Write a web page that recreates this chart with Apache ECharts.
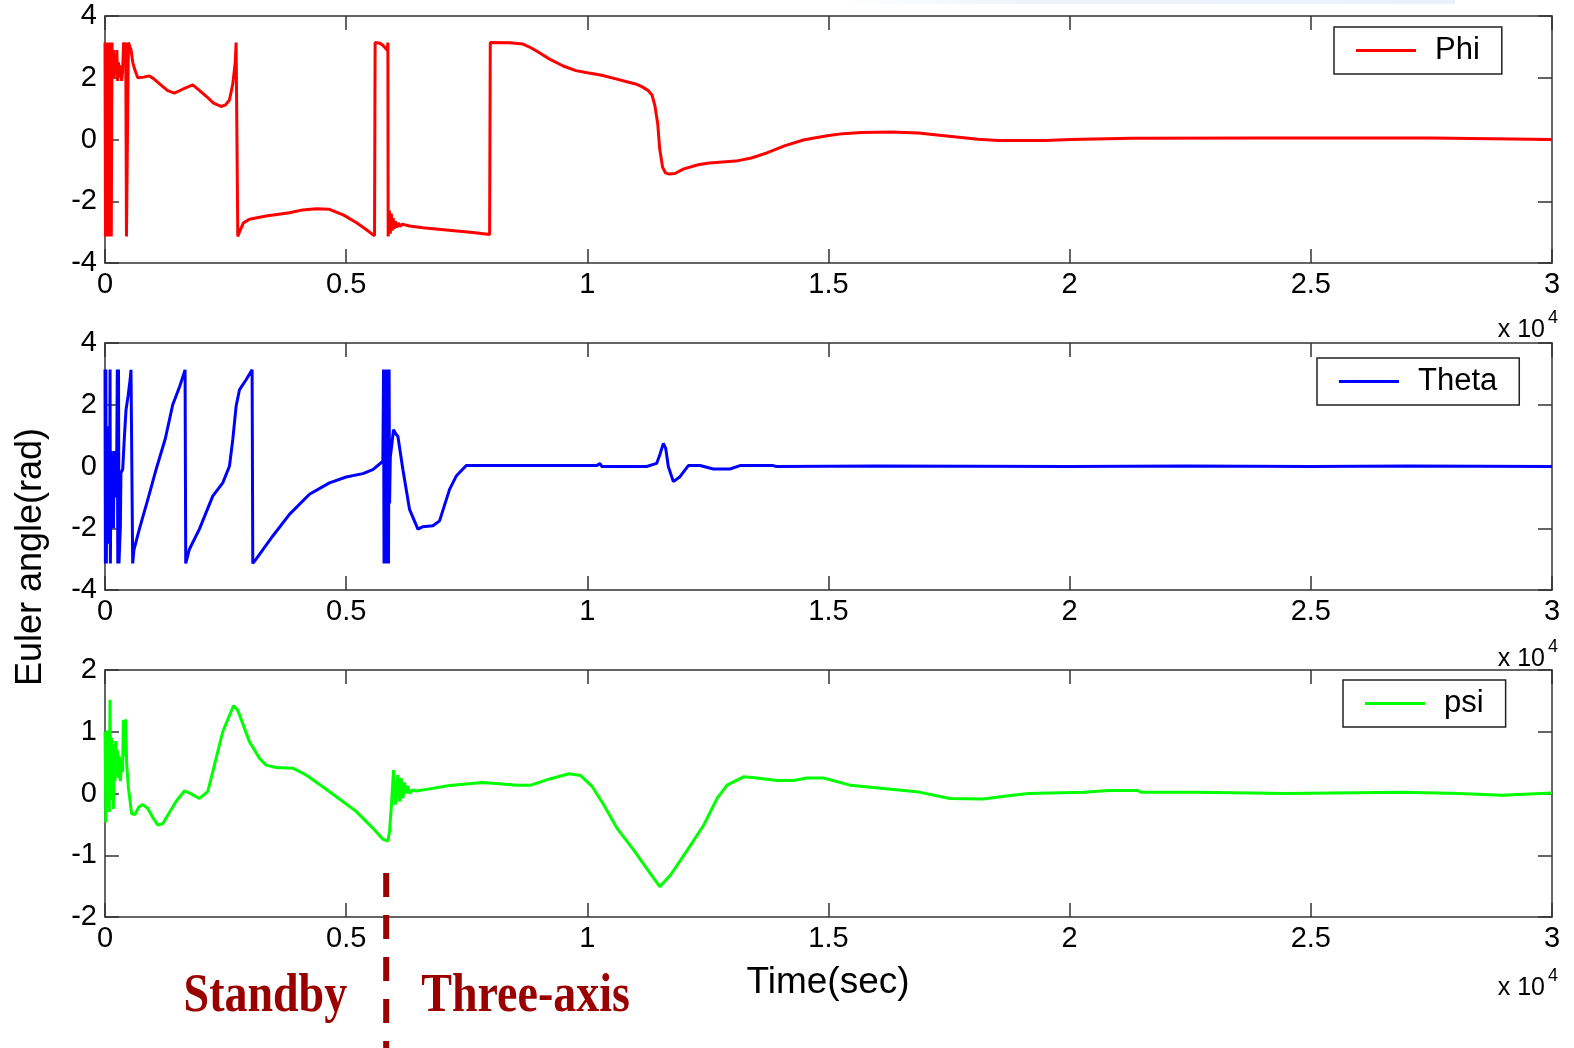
<!DOCTYPE html>
<html>
<head>
<meta charset="utf-8">
<script src="https://cdn.jsdelivr.net/npm/echarts@6/dist/echarts.min.js"></script>
<style>
  html, body { margin: 0; padding: 0; background: #fff; }
  #main { width: 1574px; height: 1048px; }
</style>
</head>
<body>
<div id="main"></div>
<script>
// time in seconds, angle in rad
var phiData = [
  [0, 3.14], [10, -3.14], [22, 3.14], [32, -3.14], [45, 3.14], [56, -3.14], [68, 3.14], [80, -3.14],
  [92, 3.14], [104, -3.14], [118, 3.14], [130, -3.14], [145, 3.14], [160, 2.1], [175, 2.9], [190, 2.0],
  [210, 2.7], [225, 2.1], [245, 2.9], [262, 1.9], [280, 2.5], [300, 2.0], [320, 2.4], [345, 1.9],
  [365, 2.2], [385, 3.14], [410, 3.0], [430, 3.14], [445, -3.14], [470, -3.14], [485, 3.14], [510, 3.1],
  [540, 2.9], [575, 2.5], [620, 2.25], [680, 2.0], [712, 1.98], [800, 2.02], [920, 2.06], [1000, 1.98],
  [1150, 1.78], [1300, 1.58], [1438, 1.5], [1600, 1.62], [1819, 1.77], [1950, 1.6], [2100, 1.4],
  [2250, 1.18], [2407, 1.07], [2500, 1.12], [2580, 1.28], [2650, 1.8], [2700, 2.5], [2718, 3.14],
  [2740, 3.14], [2753, -3.14], [2800, -2.95], [2870, -2.7], [2995, -2.58], [3340, -2.48], [3824, -2.37],
  [4100, -2.28], [4378, -2.24], [4654, -2.26], [4950, -2.45], [5207, -2.69], [5400, -2.9], [5588, -3.12],
  [5600, 3.14], [5700, 3.12], [5761, 3.05], [5851, 2.89], [5865, 3.14], [5871, -3.14], [5895, -2.3],
  [5915, -3.05], [5935, -2.4], [5955, -2.95], [5975, -2.55], [5995, -2.9], [6020, -2.65], [6050, -2.85],
  [6080, -2.7], [6120, -2.82], [6160, -2.74], [6314, -2.8], [6591, -2.86], [7075, -2.93], [7628, -3.01],
  [7974, -3.08], [7988, 3.14], [8389, 3.13], [8665, 3.09], [8820, 2.98], [8974, 2.84], [9200, 2.62],
  [9500, 2.38], [9763, 2.23], [10000, 2.16], [10300, 2.08], [10552, 1.98], [10800, 1.88], [11000, 1.8],
  [11120, 1.72], [11250, 1.6], [11342, 1.44], [11400, 1.1], [11460, 0.5], [11500, -0.3], [11560, -0.9],
  [11620, -1.08], [11700, -1.12], [11815, -1.1], [12000, -0.95], [12300, -0.82], [12525, -0.76],
  [13078, -0.7], [13400, -0.6], [13709, -0.44], [14100, -0.2], [14498, -0.01], [14972, 0.12],
  [15300, 0.19], [15682, 0.23], [16300, 0.24], [16866, 0.21], [17300, 0.14], [17655, 0.08],
  [18100, 0.01], [18523, -0.03], [19500, -0.03], [20024, 0.0], [21286, 0.04], [24000, 0.05],
  [27500, 0.05], [27530, 0.0], [30000, 0.0]
];

var thetaData = [
  [0, 3.14], [8, -3.14], [18, 3.14], [28, -3.14], [40, 1.3], [50, -1.5], [60, 0.8], [70, -2.5],
  [80, 1.0], [95, -1.3], [105, 3.14], [112, -3.14], [125, 0.5], [140, -1.0], [160, -0.2], [175, -2.0],
  [190, 0.5], [210, -1.0], [240, -0.5], [255, 3.14], [265, -3.14], [280, 3.14], [290, -3.14],
  [305, -2.5], [318, -2.0], [330, -0.2], [367, -0.1], [400, 0.9], [436, 1.84], [480, 2.3],
  [520, 2.8], [539, 3.13], [560, 3.14], [574, -3.14], [600, -2.7], [712, -2.03], [900, -1.0],
  [1058, -0.1], [1250, 0.9], [1404, 2.0], [1550, 2.6], [1660, 3.13], [1674, -3.14], [1750, -2.68],
  [1957, -2.03], [2234, -0.96], [2441, -0.53], [2580, 0.01], [2649, 0.87], [2718, 1.95], [2787, 2.48],
  [2925, 2.81], [3050, 3.13], [3064, -3.14], [3133, -3.0], [3479, -2.25], [3824, -1.55], [4239, -0.9],
  [4654, -0.53], [5000, -0.34], [5346, -0.23], [5553, -0.1], [5761, 0.17], [5775, 3.14], [5785, -3.14],
  [5795, 3.14], [5805, -3.14], [5815, 3.14], [5828, -3.14], [5840, 3.14], [5852, -3.14], [5865, 3.14],
  [5878, -3.14], [5890, 3.14], [5900, -1.2], [5915, 0.3], [5934, 0.33], [5982, 1.19], [6030, 1.05],
  [6072, 0.98], [6176, -0.1], [6314, -1.39], [6487, -2.03], [6591, -1.95], [6798, -1.92], [6936, -1.76],
  [7144, -0.74], [7282, -0.31], [7490, 0.03], [8112, 0.03], [8650, 0.03], [8665, 0.08], [8700, 0.03],
  [10200, 0.03], [10263, 0.1], [10300, 0.0], [11230, 0.0], [11437, 0.1], [11507, 0.4], [11576, 0.75],
  [11625, 0.59], [11679, 0.0], [11783, -0.49], [11921, -0.33], [12094, 0.03], [12336, 0.03],
  [12612, -0.08], [12958, -0.08], [13165, 0.03], [13850, 0.03], [13920, 0.0], [16000, 0.02],
  [20000, 0.0], [22400, 0.02], [25000, 0.0], [27000, 0.02], [30000, 0.0]
];

var psiData = [
  [0, 1.0], [18, -0.47], [35, 1.02], [50, 0.1], [70, 0.9], [88, -0.3], [104, 1.52], [120, 0.0],
  [138, 0.9], [150, -0.1], [165, 0.8], [173, -0.25], [190, 0.7], [207, 0.2], [222, 0.85], [242, 0.3],
  [260, 0.7], [276, 0.25], [300, 0.6], [320, 0.2], [346, 0.55], [365, 0.35], [380, 1.19], [405, 0.6],
  [429, 1.2], [449, 0.49], [484, 0.1], [553, -0.33], [622, -0.34], [700, -0.22], [781, -0.18],
  [885, -0.24], [1000, -0.4], [1093, -0.51], [1196, -0.49], [1473, -0.13], [1646, 0.04], [1750, 0.01],
  [1957, -0.08], [2130, 0.03], [2234, 0.35], [2441, 1.0], [2663, 1.42], [2752, 1.35], [2994, 0.84],
  [3202, 0.57], [3340, 0.46], [3548, 0.42], [3893, 0.41], [4170, 0.3], [4516, 0.11], [4931, -0.13],
  [5207, -0.29], [5553, -0.56], [5761, -0.74], [5865, -0.77], [5899, -0.61], [5934, -0.24], [5982, 0.38],
  [6024, -0.18], [6072, 0.3], [6107, -0.13], [6141, 0.25], [6176, -0.08], [6210, 0.18], [6245, 0.0],
  [6280, 0.12], [6314, 0.0], [6380, 0.06], [6452, 0.04], [6729, 0.075], [7144, 0.13], [7835, 0.18],
  [8552, 0.135], [8828, 0.135], [9241, 0.24], [9621, 0.32], [9862, 0.29], [10103, 0.11], [10345, -0.19],
  [10621, -0.57], [10966, -0.92], [11310, -1.3], [11503, -1.51], [11724, -1.32], [12069, -0.92],
  [12414, -0.51], [12690, -0.08], [12897, 0.135], [13241, 0.27], [13517, 0.25], [13931, 0.21],
  [14276, 0.21], [14552, 0.25], [14897, 0.25], [15448, 0.135], [16138, 0.08], [16828, 0.03],
  [17517, -0.08], [18207, -0.09], [18815, -0.03], [19148, 0], [20296, 0.02], [20815, 0.05], [21407, 0.05],
  [21481, 0.02], [22630, 0.02], [22667, 0], [24481, 0], [24519, 0.02], [26889, 0.02], [26926, 0],
  [28074, 0], [28111, -0.03], [28963, -0.03], [29000, 0], [30000, 0.01]
];

var seriesNames = ['Phi', 'Theta', 'psi'];
var seriesColors = ['#ff0000', '#0000ff', '#00ff00'];
var yRanges = [[-4, 4, 2], [-4, 4, 2], [-2, 2, 1]];
var switchTime = 5830; // standby -> three-axis

var FONT = '"Liberation Sans", Arial, sans-serif';
var gridTops = [16, 343, 670];
var gridHeight = 247;

var chart = echarts.init(document.getElementById('main'));

var grids = [], xAxes = [], yAxes = [], legends = [], series = [];
var axisLine = { show: true, onZero: false, lineStyle: { color: '#333', width: 1.5 } };
var tick = { show: true, inside: true, length: 14, lineStyle: { color: '#333', width: 1.5 } };

for (var i = 0; i < 3; i++) {
  grids.push({ left: 105, top: gridTops[i], width: 1447, height: gridHeight });
  xAxes.push({
    type: 'value', gridIndex: i, position: 'bottom', min: 0, max: 30000, interval: 5000,
    axisLine: axisLine, axisTick: tick, splitLine: { show: false },
    axisLabel: {
      fontSize: 29, fontFamily: FONT, color: '#000', margin: 7,
      formatter: function (v) { return String(v / 10000); }
    }
  });
  yAxes.push({
    type: 'value', gridIndex: i, position: 'left',
    min: yRanges[i][0], max: yRanges[i][1], interval: yRanges[i][2],
    axisLine: axisLine, axisTick: tick, splitLine: { show: false },
    axisLabel: { fontSize: 29, fontFamily: FONT, color: '#000', margin: 8 }
  });
}
// mirrored top / right axes for the box frame
for (var j = 0; j < 3; j++) {
  xAxes.push({
    type: 'value', gridIndex: j, position: 'top', min: 0, max: 30000, interval: 5000,
    axisLine: axisLine, axisTick: tick, splitLine: { show: false }, axisLabel: { show: false }
  });
  yAxes.push({
    type: 'value', gridIndex: j, position: 'right',
    min: yRanges[j][0], max: yRanges[j][1], interval: yRanges[j][2],
    axisLine: axisLine, axisTick: tick, splitLine: { show: false }, axisLabel: { show: false }
  });
}

var legendPos = [[1334, 27], [1317, 358], [1343, 680]];
var dataSets = [phiData, thetaData, psiData];
for (var k = 0; k < 3; k++) {
  legends.push({
    data: [{ name: seriesNames[k], icon: 'rect' }], left: legendPos[k][0], top: legendPos[k][1],
    backgroundColor: '#fff', borderColor: '#222', borderWidth: 1.5, borderRadius: 0,
    padding: [8, 22, 8, 22], itemWidth: 60, itemHeight: 3,
    textStyle: { fontSize: 31, fontFamily: FONT, color: '#000', padding: [0, 0, 0, 14] }
  });
  series.push({
    name: seriesNames[k], type: 'line', xAxisIndex: k, yAxisIndex: k,
    data: dataSets[k], showSymbol: false, symbol: 'none', sampling: null,
    lineStyle: { color: seriesColors[k], width: 3 }, itemStyle: { color: seriesColors[k] },
    animation: false, z: 3
  });
}

chart.setOption({
  backgroundColor: '#fff',
  animation: false,
  grid: grids,
  xAxis: xAxes,
  yAxis: yAxes,
  legend: legends,
  series: series
});

var sx = chart.convertToPixel({ xAxisIndex: 2 }, switchTime);
var expTexts = [];
for (var m = 0; m < 3; m++) {
  var by = gridTops[m] + gridHeight + 67 + m * 2;
  expTexts.push({
    type: 'text', x: 1545, y: by,
    style: { text: 'x 10', font: '25px ' + FONT, fill: '#000', align: 'right', verticalAlign: 'middle' }
  });
  expTexts.push({
    type: 'text', x: 1548, y: by - 12,
    style: { text: '4', font: '18px ' + FONT, fill: '#000', align: 'left', verticalAlign: 'middle' }
  });
}

chart.setOption({
  graphic: [
    {
      type: 'rect', shape: { x: 835, y: 0, width: 620, height: 4 },
      style: {
        fill: new echarts.graphic.LinearGradient(0, 0, 1, 0, [
          { offset: 0, color: '#ffffff' }, { offset: 0.3, color: '#eef4fb' }, { offset: 1, color: '#e8f1fb' }
        ])
      }
    },
    {
      type: 'text', x: 31, y: 557, rotation: Math.PI / 2,
      style: { text: 'Euler angle(rad)', font: '36px ' + FONT, fill: '#000', align: 'center', verticalAlign: 'middle' }
    },
    {
      type: 'text', x: 828, y: 983,
      style: { text: 'Time(sec)', font: '37px ' + FONT, fill: '#000', align: 'center', verticalAlign: 'middle' }
    },
    {
      type: 'line', shape: { x1: sx, y1: 873, x2: sx, y2: 1048 },
      style: { stroke: '#990000', lineWidth: 6, lineDash: [24, 18] }, z: 10
    },
    {
      type: 'text', x: sx - 39, y: 997, scaleY: 1.2,
      style: { text: 'Standby', font: 'bold 46px "Liberation Serif", "Times New Roman", serif', fill: '#9b0000', align: 'right', verticalAlign: 'middle' }
    },
    {
      type: 'text', x: sx + 35, y: 997, scaleY: 1.2,
      style: { text: 'Three-axis', font: 'bold 46px "Liberation Serif", "Times New Roman", serif', fill: '#9b0000', align: 'left', verticalAlign: 'middle' }
    }
  ].concat(expTexts)
});
</script>
</body>
</html>
